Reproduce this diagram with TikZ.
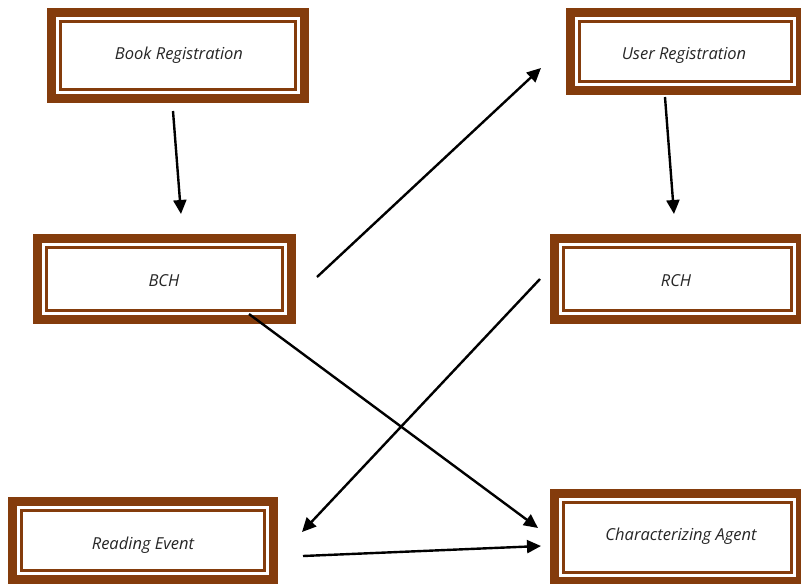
\documentclass[tikz,border=0pt]{standalone}
\usepackage{fontspec}
\setmainfont{Open Sans}
\usetikzlibrary{arrows.meta}
\definecolor{brn}{RGB}{132,60,12}
\definecolor{txt}{RGB}{38,38,38}
\newcommand\brownbox[5]{%
  \fill[brn] (#2,#3) rectangle (#4,#5);
  \fill[white] (#2+9,#3+9) rectangle (#4-9,#5-9);
  \fill[brn] (#2+12,#3+12) rectangle (#4-12,#5-12);
  \fill[white] (#2+15,#3+15) rectangle (#4-15,#5-15);
  \node[inner sep=0pt, minimum width={(#4-#2)*1pt}, minimum height={(#5-#3)*1pt}] (#1) at ({(#2+#4)/2},{(#3+#5)/2}) {};
}
\begin{document}
\begin{tikzpicture}[x=1pt,y=-1pt,
  lbl/.style={inner sep=0pt, font=\fontsize{16.5}{18}\selectfont\itshape, text=txt},
  conn/.style={line width=2.4pt, -{Triangle[length=14pt,width=13pt]}}]
\useasboundingbox (0,0) rectangle (801,584);
\brownbox{book}{47}{8}{309}{103}
\brownbox{user}{566}{8}{805}{95}
\brownbox{bch}{33}{234}{296}{324}
\brownbox{rch}{550}{234}{805}{324}
\brownbox{read}{8}{497}{278}{584}
\brownbox{char}{550}{489}{805}{586}
\node[lbl] (booktxt) at (179,55) {Book Registration};
\node[lbl] (usertxt) at (684,55) {User Registration};
\node[lbl] (bchtxt) at (164,281) {BCH};
\node[lbl] (rchtxt) at (676,281) {RCH};
\node[lbl] (readtxt) at (143,545) {Reading Event};
\node[lbl] (chartxt) at (681,536) {Characterizing Agent};
\coordinate (a1) at (173,111); \coordinate (a2) at (181,214);
\coordinate (b1) at (665,97);  \coordinate (b2) at (674,214);
\coordinate (c1) at (317,277); \coordinate (c2) at (541,68);
\coordinate (d1) at (540,279); \coordinate (d2) at (302,532);
\coordinate (e1) at (249,314); \coordinate (e2) at (538,528);
\coordinate (f1) at (303,556); \coordinate (f2) at (541,546);
\draw[conn] (a1) -- (a2);
\draw[conn] (b1) -- (b2);
\draw[conn] (c1) -- (c2);
\draw[conn] (d1) -- (d2);
\draw[conn] (e1) -- (e2);
\draw[conn] (f1) -- (f2);
\end{tikzpicture}
\end{document}
